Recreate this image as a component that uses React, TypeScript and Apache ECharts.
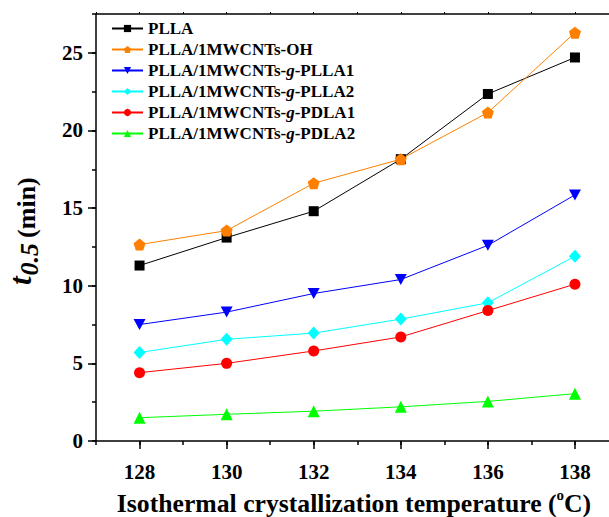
import React, { useEffect, useRef } from "react";
import * as echarts from "echarts";

const temperatures = [128, 130, 132, 134, 136, 138];
const seriesNames = [
  "PLLA",
  "PLLA/1MWCNTs-OH",
  "PLLA/1MWCNTs-g-PLLA1",
  "PLLA/1MWCNTs-g-PLLA2",
  "PLLA/1MWCNTs-g-PDLA1",
  "PLLA/1MWCNTs-g-PDLA2",
];
const plla = [11.3, 13.1, 14.8, 18.15, 22.35, 24.7];
const pllaOH = [12.65, 13.55, 16.6, 18.15, 21.15, 26.3];
const gPLLA1 = [7.5, 8.3, 9.5, 10.4, 12.6, 15.85];
const gPLLA2 = [5.7, 6.55, 6.95, 7.85, 8.9, 11.9];
const gPDLA1 = [4.4, 5.0, 5.8, 6.7, 8.4, 10.1];
const gPDLA2 = [1.5, 1.72, 1.92, 2.2, 2.55, 3.05];
const xTickLabels = [128, 130, 132, 134, 136, 138];
const yTickLabels = [0, 5, 10, 15, 20, 25];

const FONT = "'Liberation Serif', 'Times New Roman', serif";
const PENTAGON = "path://M0,-1 L0.951,-0.309 L0.588,0.809 L-0.588,0.809 L-0.951,-0.309 Z";
const TRI_DOWN = "path://M0,0 L2,0 L1,1.8 Z";

function measure(text: string, size: number, italic = false): number {
  const c = document.createElement("canvas").getContext("2d");
  if (!c) return text.length * size * 0.5;
  c.font = `${italic ? "italic " : ""}bold ${size}px ${FONT}`;
  return c.measureText(text).width;
}

function txt(text: string, x: number, y: number, size: number, italic = false, rotation = 0) {
  return {
    type: "text",
    x,
    y,
    rotation,
    style: {
      text,
      fill: "#000",
      fontFamily: FONT,
      fontWeight: "bold",
      fontStyle: italic ? "italic" : "normal",
      fontSize: size,
      align: "left",
      verticalAlign: "middle",
    },
  };
}

export default function App() {
  const ref = useRef<HTMLDivElement>(null);
  useEffect(() => {
    if (!ref.current) return;
    const chart = echarts.init(ref.current, undefined, { renderer: "svg" });
    const valuesList = [plla, pllaOH, gPLLA1, gPLLA2, gPDLA1, gPDLA2];
    const colors = ["#000000", "#FF8000", "#0000FF", "#00FFFF", "#FF0000", "#00FF00"];
    const symbols = ["rect", PENTAGON, TRI_DOWN, "diamond", "circle", "triangle"];
    const sizes: any[] = [10, 12, [12, 11], [12, 13], 11, 12];

    const series = seriesNames.map((name, i) => ({
      name,
      type: "line",
      xAxisIndex: 0,
      yAxisIndex: 0,
      data: temperatures.map((t, j) => [t, valuesList[i][j]]),
      symbol: symbols[i],
      symbolSize: sizes[i],
      lineStyle: { color: colors[i], width: 1 },
      itemStyle: { color: colors[i] },
      emphasis: { disabled: true },
    }));

    // x title
    const X_SIZE = 25.7;
    const SUP_SIZE = 15;
    const part1 = "Isothermal crystallization temperature (";
    const w1 = measure(part1, X_SIZE);
    const wSup = measure("o", SUP_SIZE);
    const w2 = measure("C)", X_SIZE);
    const total = w1 + wSup + w2;
    const xStart = 354 - total / 2;
    const xMid = 503;

    // y title
    const T_SIZE = 31;
    const SUB_SIZE = 26;
    const MIN_SIZE = 26;
    const tW = measure("t", T_SIZE, true);
    const subW = measure("0.5", SUB_SIZE, true);
    const yStart = 285;

    chart.setOption({
      animation: false,
      grid: { left: 96, top: 14, width: 522.5, height: 427, containLabel: false, outerBoundsMode: "none" },
      legend: {
        left: 111,
        top: 20,
        orient: "vertical",
        padding: 0,
        itemGap: 4,
        itemWidth: 31,
        itemHeight: 9,
        data: seriesNames,
        formatter: (name: string) => name.replace("-g-", "-{i|g}-"),
        textStyle: {
          fontFamily: FONT,
          fontWeight: "bold",
          fontSize: 17,
          color: "#000",
          lineHeight: 17,
          rich: {
            i: { fontFamily: FONT, fontWeight: "bold", fontStyle: "italic", fontSize: 17, lineHeight: 17 },
          },
        },
      },
      xAxis: [
        {
          type: "value",
          position: "bottom",
          min: 127,
          max: 139,
          axisLine: { show: true, onZero: false, lineStyle: { color: "#000", width: 1.5 } },
          axisTick: { show: true, length: 8, customValues: xTickLabels, lineStyle: { color: "#000", width: 1.5 } },
          axisLabel: {
            customValues: xTickLabels,
            margin: 20,
            fontFamily: FONT,
            fontWeight: "bold",
            fontSize: 21,
            color: "#000",
          },
          splitLine: { show: false },
        },
        {
          type: "value",
          position: "bottom",
          min: 127,
          max: 139,
          interval: 1,
          axisLine: { show: false, onZero: false },
          axisTick: { show: true, length: 4, lineStyle: { color: "#000", width: 1.5 } },
          axisLabel: { show: false },
          splitLine: { show: false },
        },
        {
          type: "value",
          position: "top",
          min: 127,
          max: 139,
          interval: 1,
          axisLine: { show: true, onZero: false, lineStyle: { color: "#000", width: 1.5 } },
          axisTick: { show: true, length: 2, lineStyle: { color: "#000", width: 1 } },
          axisLabel: { show: false },
          splitLine: { show: false },
        },
      ],
      yAxis: [
        {
          type: "value",
          position: "left",
          min: 0,
          max: 27.5,
          axisLine: { show: true, onZero: false, lineStyle: { color: "#000", width: 1.5 } },
          axisTick: { show: true, length: 8, customValues: yTickLabels, lineStyle: { color: "#000", width: 1.5 } },
          axisLabel: {
            customValues: yTickLabels,
            margin: 13,
            fontFamily: FONT,
            fontWeight: "bold",
            fontSize: 21,
            color: "#000",
          },
          splitLine: { show: false },
        },
        {
          type: "value",
          position: "left",
          min: 0,
          max: 27.5,
          interval: 2.5,
          axisLine: { show: false, onZero: false },
          axisTick: { show: true, length: 4, lineStyle: { color: "#000", width: 1.5 } },
          axisLabel: { show: false },
          splitLine: { show: false },
        },
      ],
      series,
      graphic: [
        txt(part1, xStart, xMid, X_SIZE),
        txt("o", xStart + w1, xMid - 8, SUP_SIZE),
        txt("C)", xStart + w1 + wSup, xMid, X_SIZE),
        txt("t", 20, yStart, T_SIZE, true, Math.PI / 2),
        txt("0.5", 29, yStart - tW - 1, SUB_SIZE, true, Math.PI / 2),
        txt("(min)", 26, yStart - tW - 1 - subW - 5, MIN_SIZE, false, Math.PI / 2),
      ],
    });
    return () => chart.dispose();
  }, []);
  return <div ref={ref} style={{ position: "fixed", left: 0, top: 0, width: 609, height: 517, background: "#fff" }} />;
}
